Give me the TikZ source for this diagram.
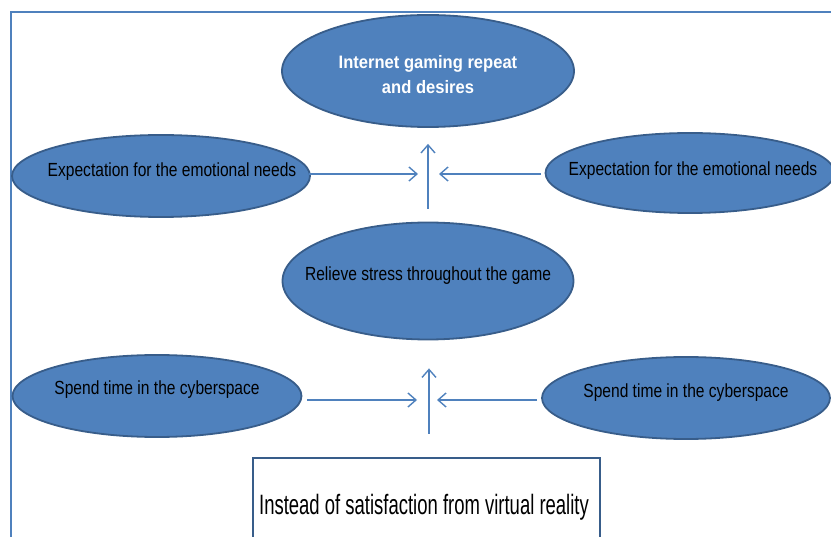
\documentclass[tikz,border=0pt]{standalone}
\usepackage{fontspec}
\setmainfont{Liberation Sans}
\newfontfamily\narrowfont[FakeStretch=0.82]{Liberation Sans}
\newfontfamily\tallfont[FakeStretch=0.66]{Liberation Sans}
\newfontfamily\headfont[FakeStretch=0.92]{Liberation Sans}
\usetikzlibrary{shapes.geometric,arrows.meta,positioning}

\definecolor{ovalfill}{HTML}{4F81BD}
\definecolor{ovaldraw}{HTML}{385D8A}
\definecolor{arrowblue}{HTML}{4F81BD}

\tikzset{
  oval/.style 2 args={ellipse, draw=ovaldraw, line width=1.8pt, fill=ovalfill,
                      inner sep=0pt, minimum width=#1, minimum height=#2},
  ovaltext/.style={font=\narrowfont\fontsize{19}{22}\selectfont, text=black, inner sep=0pt},
  headtext/.style={font=\headfont\bfseries\fontsize{18}{25}\selectfont, text=white,
                   align=center, inner sep=0pt},
  flow/.style={draw=arrowblue, line width=1.4pt, -{Straight Barb[length=8pt,width=14pt]}},
  reasonbox/.style={draw=ovaldraw, line width=2pt, fill=white, inner sep=0pt,
                    minimum width=347pt, minimum height=100pt}
}

\begin{document}
\begin{tikzpicture}[x=1pt,y=-1pt]
    \useasboundingbox (0,0) rectangle (831,537);
    \clip (0,0) rectangle (831,537);
    \draw[draw=arrowblue, line width=2pt] (11,12) rectangle (850,560);

    % goal on top
    \node[oval={292pt}{112pt}, label={[headtext, yshift=-4pt]center:Internet gaming repeat\\and desires}] (repeat) at (428,71) {};
    \node[oval={298pt}{82pt}, label={[ovaltext, xshift=11pt, yshift=4pt]center:Expectation for the emotional needs}] (expl) at (161,176) {};
    \node[oval={289pt}{80pt}, label={[ovaltext, xshift=3pt, yshift=2pt]center:Expectation for the emotional needs}] (expr) at (690,173) {};
    \node[oval={291pt}{117pt}, label={[ovaltext, yshift=5pt]center:Relieve stress throughout the game}] (relieve) at (428,281) {};
    \node[oval={289pt}{82pt}, label={[ovaltext, yshift=6pt]center:Spend time in the cyberspace}] (spendl) at (157,396) {};
    \node[oval={288pt}{82pt}, label={[ovaltext, yshift=5pt]center:Spend time in the cyberspace}] (spendr) at (686,398) {};
    \node[reasonbox, anchor=north west] (reason) at (252,457) {};
    \node[ovaltext, font=\tallfont\fontsize{28}{30}\selectfont] (reasontext) at (424,507) {Instead of satisfaction from virtual reality};

    % joins
    \coordinate (upjoin) at (427,174);
    \coordinate (lowjoin) at (429,400);

    \draw[flow, shorten <=13pt, shorten >=16pt] (relieve) -- (repeat);
    \draw[flow, shorten <=-2pt, shorten >=9pt] (expl.east |- upjoin) -- (upjoin);
    \draw[flow, shorten <=4pt, shorten >=12pt] (expr.west |- upjoin) -- (upjoin);

    \draw[flow, shorten <=23pt, shorten >=28pt] (lowjoin |- reason.north) -- (lowjoin |- relieve.south);
    \draw[flow, shorten <=5pt, shorten >=12pt] (spendl.east |- lowjoin) -- (lowjoin);
    \draw[flow, shorten <=4pt, shorten >=8pt] (spendr.west |- lowjoin) -- (lowjoin);
\end{tikzpicture}
\end{document}
